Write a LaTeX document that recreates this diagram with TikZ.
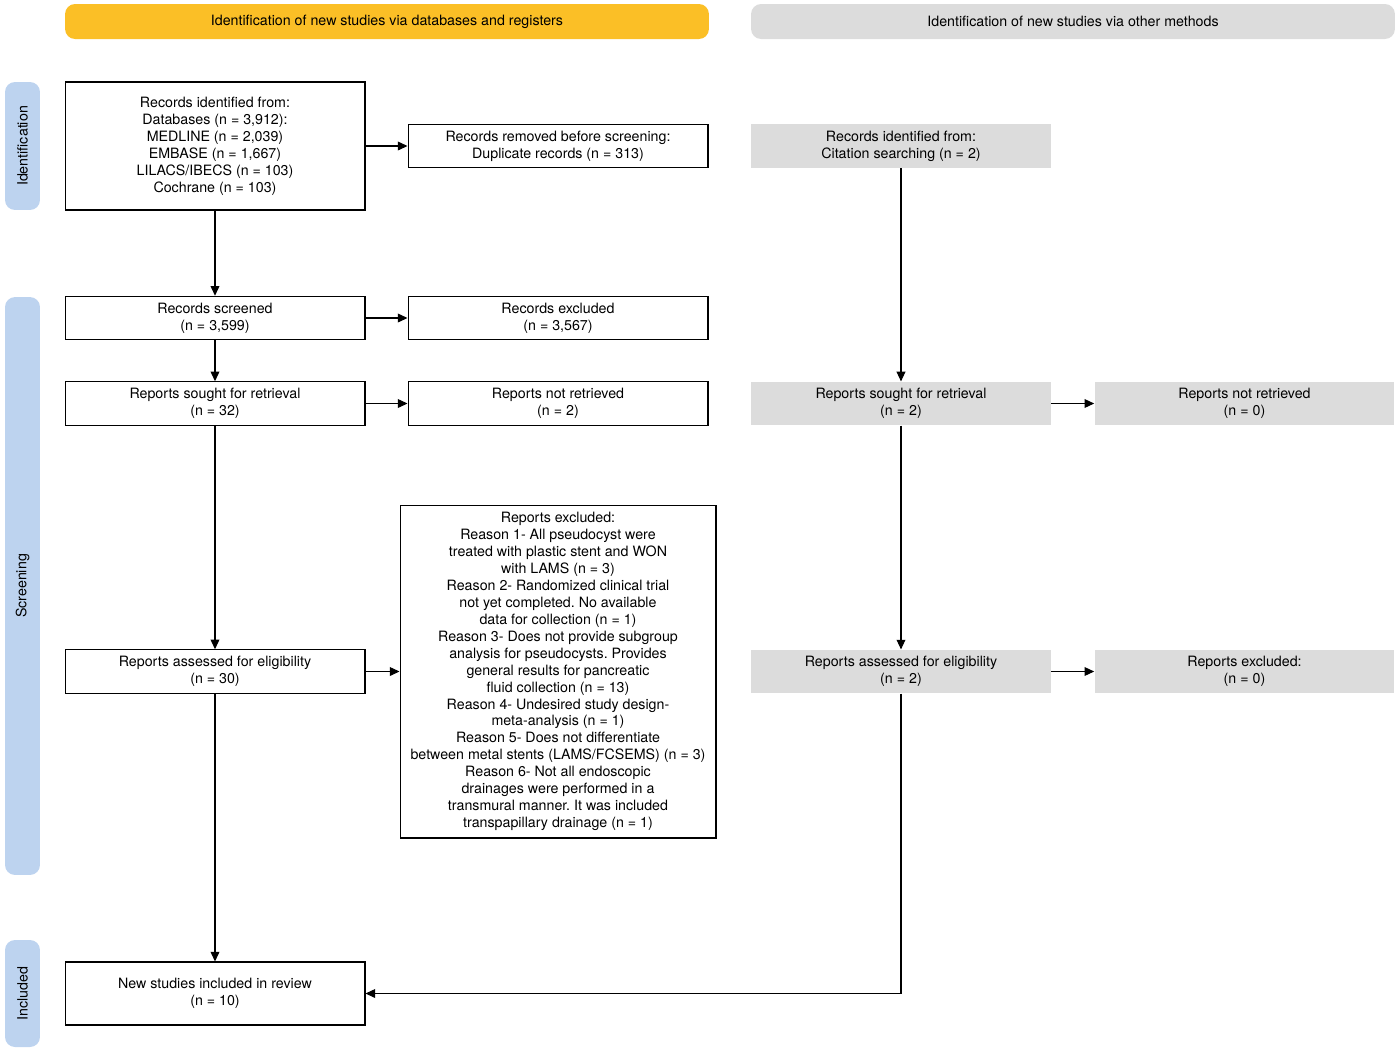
\documentclass[tikz,border=0pt]{standalone}
\usepackage{fontspec}
\setmainfont{TeX Gyre Heros}
\usetikzlibrary{arrows.meta}
\definecolor{prismayellow}{HTML}{FBBF26}
\definecolor{prismagrey}{HTML}{DCDCDC}
\definecolor{prismablue}{HTML}{BDD3EF}
\frenchspacing

\begin{document}
\begin{tikzpicture}[x=0.02cm,y=-0.02cm,
  every node/.style={font=\fontsize{8.1}{9.64}\selectfont,align=center,inner sep=0pt},
  box/.style={rectangle,draw,line width=0.6pt,minimum width=6cm,minimum height=0.87cm},
  greybox/.style={rectangle,fill=prismagrey,minimum width=6cm,minimum height=0.87cm},
  headbar/.style={rectangle,rounded corners=0.2cm,minimum width=12.88cm,minimum height=0.7cm},
  sidebar/.style={rectangle,rounded corners=0.2cm,fill=prismablue,minimum height=0.7cm,rotate=90},
  ->/.style={draw,line width=0.6pt,-{Triangle[length=5.5pt,width=5pt]}}]
\useasboundingbox (0,0) rectangle (1400,1052);

\path (387,21.5) node[headbar,fill=prismayellow] (dbhead) {Identification of new studies via databases and registers};
\path (1073,21.5) node[headbar,fill=prismagrey] (othhead) {Identification of new studies via other methods};

\path (22.5,146) node[sidebar,minimum width=2.56cm] (idbar) {Identification};
\path (22.5,586) node[sidebar,minimum width=11.56cm] (scbar) {Screening};
\path (22.5,993.5) node[sidebar,minimum width=2.14cm] (inbar) {Included};

\path (215,146) node[box,minimum height=2.56cm] (recid) {Records identified from:\\Databases (n = 3,912):\\MEDLINE (n = 2,039)\\EMBASE (n = 1,667)\\LILACS/IBECS (n = 103)\\Cochrane (n = 103)};
\path (558,146) node[box] (recrem) {Records removed before screening:\\Duplicate records (n = 313)};
\draw[->] (recid) -- (recrem);

\path (215,318) node[box] (recscr) {Records screened\\(n = 3,599)};
\draw[->] (recid) -- (recscr);
\path (558,318) node[box] (recexc) {Records excluded\\(n = 3,567)};
\draw[->] (recscr) -- (recexc);

\path (215,403.5) node[box] (repsou) {Reports sought for retrieval\\(n = 32)};
\draw[->] (recscr) -- (repsou);
\path (558,403.5) node[box] (repnot) {Reports not retrieved\\(n = 2)};
\draw[->] (repsou) -- (repnot);

\path (215,671.5) node[box] (repass) {Reports assessed for eligibility\\(n = 30)};
\draw[->] (repsou) -- (repass);
\path (558,671.5) node[box,minimum width=6.32cm,minimum height=6.66cm] (repexc) {Reports excluded:\\Reason 1- All pseudocyst were\\treated with plastic stent and WON\\with LAMS (n = 3)\\Reason 2- Randomized clinical trial\\not yet completed. No available\\data for collection (n = 1)\\Reason 3- Does not provide subgroup\\analysis for pseudocysts. Provides\\general results for pancreatic\\fluid collection (n = 13)\\Reason 4- Undesired study design-\\meta-analysis (n = 1)\\Reason 5- Does not differentiate\\between metal stents (LAMS/FCSEMS) (n = 3)\\Reason 6- Not all endoscopic\\drainages were performed in a\\transmural manner. It was included\\transpapillary drainage (n = 1)};
\draw[->] (repass) -- (repexc);

\path (215,993.5) node[box,minimum height=1.26cm] (newinc) {New studies included in review\\(n = 10)};
\draw[->] (repass) -- (newinc);

\path (901,146) node[greybox] (citid) {Records identified from:\\Citation searching (n = 2)};
\path (901,403.5) node[greybox] (osou) {Reports sought for retrieval\\(n = 2)};
\draw[->] (citid) -- (osou);
\path (1244.5,403.5) node[greybox] (onot) {Reports not retrieved\\(n = 0)};
\draw[->] (osou) -- (onot);

\path (901,671.5) node[greybox] (oass) {Reports assessed for eligibility\\(n = 2)};
\draw[->] (osou) -- (oass);
\path (1244.5,671.5) node[greybox] (oexc) {Reports excluded:\\(n = 0)};
\draw[->] (oass) -- (oexc);

\draw[->] (oass) |- (newinc);
\end{tikzpicture}
\end{document}
